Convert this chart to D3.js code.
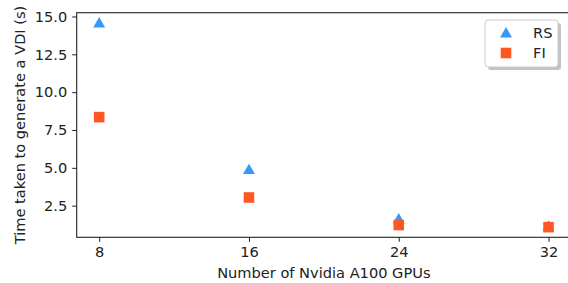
<!DOCTYPE html>
<html>
<head>
<meta charset="utf-8">
<script src="https://cdn.jsdelivr.net/npm/d3@7"></script>
<style>
  body { margin: 0; background: #fff; }
  svg { display: block; font-family: "DejaVu Sans", sans-serif; }
</style>
</head>
<body>
<div id="chart"></div>
<script>
// data
var gpus = [8, 16, 24, 32];
var rsTimes = [14.57, 4.88, 1.62, 1.15];
var fiTimes = [8.35, 3.04, 1.22, 1.08];
var yTicks = [2.5, 5.0, 7.5, 10.0, 12.5, 15.0];
var seriesNames = ['RS', 'FI'];
var seriesColors = ['#3399ff', '#ff5722'];

var width = 568, height = 283;
var margin = {left: 76.7, top: 12.7, right: 571, bottom: 237.3};
var fs = '14.6px';

var svg = d3.select('#chart').append('svg')
    .attr('width', width)
    .attr('height', height);

var x = d3.scaleLinear()
    .domain([6.8, 33.2])
    .range([margin.left, margin.right]);

var y = d3.scaleLinear()
    .domain([0.41, 15.25])
    .range([margin.bottom, margin.top]);

// frame
svg.append('rect')
    .attr('x', margin.left)
    .attr('y', margin.top)
    .attr('width', margin.right - margin.left)
    .attr('height', margin.bottom - margin.top)
    .attr('fill', 'none')
    .attr('stroke', '#222')
    .attr('stroke-width', 1.1);

var xAxis = svg.append('g')
    .attr('transform', 'translate(0,' + margin.bottom + ')')
    .call(d3.axisBottom(x).tickValues(gpus).tickSize(4.5).tickPadding(5).tickFormat(d3.format('d')));

var yAxis = svg.append('g')
    .attr('transform', 'translate(' + margin.left + ',0)')
    .call(d3.axisLeft(y).tickValues(yTicks).tickSize(4.5).tickPadding(5).tickFormat(d3.format('.1f')));

[xAxis, yAxis].forEach(function(a) {
    a.select('.domain').remove();
    a.selectAll('text')
        .attr('fill', '#222')
        .style('font-family', 'DejaVu Sans, sans-serif')
        .style('font-size', fs);
    a.selectAll('line').attr('stroke', '#222');
});

svg.append('text')
    .attr('x', (margin.left + margin.right) / 2)
    .attr('y', 278)
    .attr('text-anchor', 'middle')
    .attr('fill', '#222')
    .style('font-size', fs)
    .text('Number of Nvidia A100 GPUs');

svg.append('text')
    .attr('transform', 'translate(25,' + (margin.top + margin.bottom) / 2 + ') rotate(-90)')
    .attr('text-anchor', 'middle')
    .attr('fill', '#222')
    .style('font-size', fs)
    .text('Time taken to generate a VDI (s)');

var triangle = d3.symbol().type(d3.symbolTriangle).size(62);
var square = d3.symbol().type(d3.symbolSquare).size(112);

// RS triangles
svg.append('g').selectAll('path')
    .data(gpus)
    .join('path')
    .attr('d', triangle)
    .attr('transform', function(d, i) { return 'translate(' + x(d) + ',' + (y(rsTimes[i]) + 1) + ')'; })
    .attr('fill', seriesColors[0]);

// FI squares
svg.append('g').selectAll('path')
    .data(gpus)
    .join('path')
    .attr('d', square)
    .attr('transform', function(d, i) { return 'translate(' + x(d) + ',' + y(fiTimes[i]) + ')'; })
    .attr('fill', seriesColors[1]);

// legend
var lg = svg.append('g').attr('transform', 'translate(485,20)');
lg.append('rect')
    .attr('x', 3).attr('y', 3)
    .attr('width', 73).attr('height', 47)
    .attr('rx', 3)
    .attr('fill', '#888')
    .attr('fill-opacity', 0.5);
lg.append('rect')
    .attr('width', 73).attr('height', 47)
    .attr('rx', 3)
    .attr('fill', '#fff')
    .attr('stroke', '#ccc');

seriesNames.forEach(function(name, i) {
    var yy = 13 + i * 20;
    lg.append('path')
        .attr('d', i == 0 ? triangle : square)
        .attr('transform', 'translate(21,' + (yy + (i == 0 ? 1 : 0)) + ')')
        .attr('fill', seriesColors[i]);
    lg.append('text')
        .attr('x', 48)
        .attr('y', yy + 5)
        .attr('fill', '#222')
        .style('font-size', fs)
        .text(name);
});
</script>
</body>
</html>
